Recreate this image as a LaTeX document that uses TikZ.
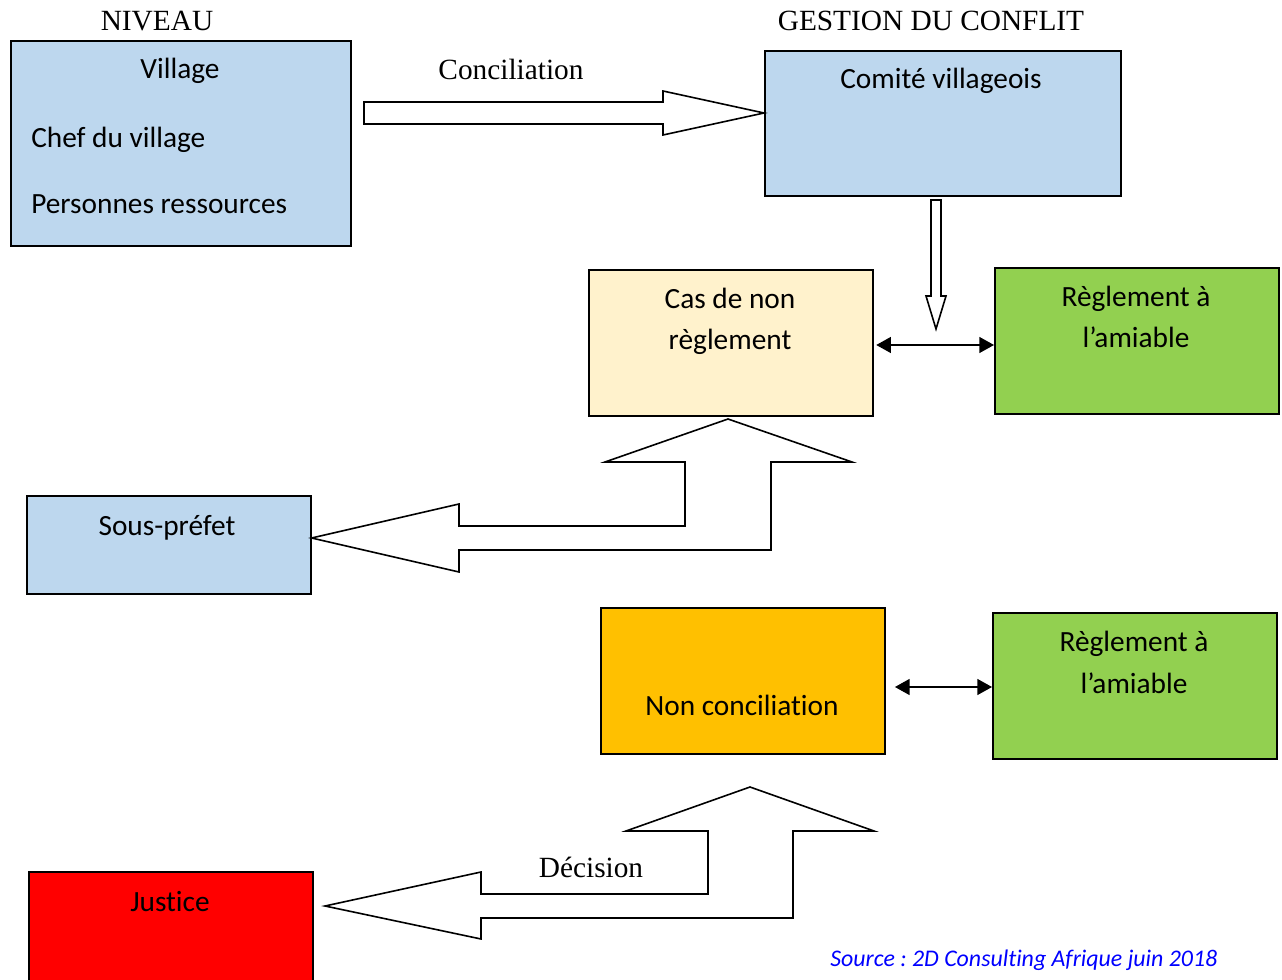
\documentclass[tikz,border=0pt]{standalone}
\usepackage{fontspec}
\setmainfont{Carlito}[Ligatures=CommonOff]
\newfontfamily\timesfont{Liberation Serif}
\usetikzlibrary{arrows.meta}
\definecolor{lightblue}{HTML}{BDD7EE}
\definecolor{lightcream}{HTML}{FFF2CC}
\definecolor{leafgreen}{HTML}{92D050}
\definecolor{amber}{HTML}{FFC000}
\definecolor{srcblue}{HTML}{0000FF}
\frenchspacing

\begin{document}
\begin{tikzpicture}[x=0.75pt, y=-0.75pt,
  box/.style={draw, line width=1.2pt, anchor=north west, minimum width=213pt, minimum height=109.5pt, inner sep=0pt},
  fat/.style={draw, line width=1.2pt, fill=white, line join=miter},
  txt/.style={font=\fontsize{22}{30.75}\selectfont, anchor=base, inner sep=0pt},
  head/.style={font=\timesfont\fontsize{22}{26}\selectfont, anchor=base, inner sep=0pt},
  dbl/.style={{Triangle[length=11pt,width=12pt]}-{Triangle[length=11pt,width=12pt]}, line width=1pt}]
\useasboundingbox (0,0) rectangle (1282,980);

% boxes
\node (village) [box, fill=lightblue, minimum width=255pt, minimum height=153.75pt] at (10,40) {};
\node (comite) [box, fill=lightblue, minimum width=267pt, minimum height=108.75pt] at (764,50) {};
\node (casnon) [box, fill=lightcream] at (588,269) {};
\node (reglA) [box, fill=leafgreen] at (994,267) {};
\node (souspref) [box, fill=lightblue, minimum height=73.5pt] at (26,495) {};
\node (noncon) [box, fill=amber] at (600,607) {};
\node (reglB) [box, fill=leafgreen] at (992,612) {};
\node (justice) [box, fill=red, minimum height=100pt] at (28,871) {};

% titles
\node (niveau) [head] at (157,31) {NIVEAU};
\node (gestion) [head] at (931,31) {GESTION DU CONFLIT};

% box texts
\node (tvillage) [txt] at (180,79) {Village};
\node (tchef) [txt, anchor=base west] at (31,148) {Chef du village};
\node (tpers) [txt, anchor=base west] at (31,214) {Personnes ressources};
\node (tcomite) [txt] at (941,89) {Comité villageois};
\node (tcas1) [txt] at (730,309) {Cas de non};
\node (tcas2) [txt] at (730,350) {règlement};
\node (treglA1) [txt] at (1136,307) {Règlement à};
\node (treglA2) [txt] at (1136,348) {l’amiable};
\node (tsous) [txt] at (167,535) {Sous-préfet};
\node (tnoncon) [txt] at (742,715) {Non conciliation};
\node (treglB1) [txt] at (1134,651) {Règlement à};
\node (treglB2) [txt] at (1134,693) {l’amiable};
\node (tjustice) [txt] at (170,911) {Justice};

% block arrows
\draw[fat] (364,102) -- (663,102) -- (663,91) -- (comite.west |- 0,113) -- (663,135) -- (663,124) -- (364,124) -- cycle;
\node (lconc) [head] at (511,80) {Conciliation};
\draw[fat] (931,200) -- (941,200) -- (941,296) -- (946,296) -- (936,329) -- (926,296) -- (931,296) -- cycle;
\draw[fat] (souspref.east |- 0,538) -- (459,504) -- (459,526) -- (685,526) -- (685,462) -- (605,462) -- (728,419)
  -- (852,462) -- (771,462) -- (771,550) -- (459,550) -- (459,572) -- cycle;
\draw[fat] (325,906) -- (481,872) -- (481,894) -- (708,894) -- (708,831) -- (626,831) -- (750,787)
  -- (874,831) -- (793,831) -- (793,918) -- (481,918) -- (481,939) -- cycle;
\node (ldec) [head] at (591,877) {Décision};

% double arrows
\draw[dbl] ([xshift=2pt]casnon.east |- 0,345) -- (reglA.west |- 0,345);
\draw[dbl] ([xshift=7pt]noncon.east |- 0,687) -- (reglB.west |- 0,687);

% source
\node (source) [anchor=base west, inner sep=0pt, text=srcblue, font=\fontsize{17.9}{21}\selectfont\itshape] at (830,966) {Source : 2D Consulting Afrique juin 2018};
\end{tikzpicture}
\end{document}
